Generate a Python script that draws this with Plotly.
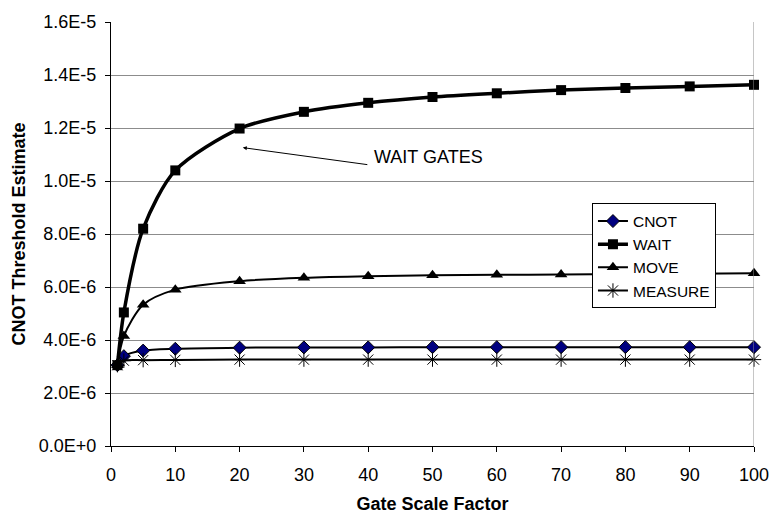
import plotly.graph_objects as go

# Gate scale factors and threshold estimates for each gate type
scale_factor = [1, 2, 5, 10, 20, 30, 40, 50, 60, 70, 80, 90, 100]

cnot = [3.05e-6, 3.39e-6, 3.60e-6, 3.67e-6, 3.71e-6, 3.72e-6, 3.72e-6,
        3.73e-6, 3.73e-6, 3.73e-6, 3.73e-6, 3.73e-6, 3.73e-6]
wait = [3.05e-6, 5.04e-6, 8.20e-6, 1.040e-5, 1.198e-5, 1.261e-5, 1.295e-5,
        1.317e-5, 1.331e-5, 1.343e-5, 1.351e-5, 1.357e-5, 1.363e-5]
move = [3.05e-6, 4.15e-6, 5.33e-6, 5.90e-6, 6.22e-6, 6.35e-6, 6.41e-6,
        6.44e-6, 6.46e-6, 6.47e-6, 6.49e-6, 6.50e-6, 6.52e-6]
measure = [3.05e-6, 3.22e-6, 3.24e-6, 3.25e-6, 3.26e-6, 3.26e-6, 3.26e-6,
           3.26e-6, 3.26e-6, 3.26e-6, 3.26e-6, 3.26e-6, 3.26e-6]

y_tick_vals = [0, 2e-6, 4e-6, 6e-6, 8e-6, 1.0e-5, 1.2e-5, 1.4e-5, 1.6e-5]
y_tick_text = ["0.0E+0", "2.0E-6", "4.0E-6", "6.0E-6", "8.0E-6",
               "1.0E-5", "1.2E-5", "1.4E-5", "1.6E-5"]
x_tick_vals = [0, 10, 20, 30, 40, 50, 60, 70, 80, 90, 100]

FONT = "Liberation Sans, Arial, sans-serif"

series = [
    ("CNOT", cnot, dict(symbol="diamond", size=10, color="#000080",
                        line=dict(color="#000000", width=1)), 2),
    ("WAIT", wait, dict(symbol="square", size=10, color="#000000"), 3.5),
    ("MOVE", move, dict(symbol="triangle-up", size=11, color="#000000"), 2),
    ("MEASURE", measure, dict(symbol="asterisk-open", size=12, color="#000000",
                              line=dict(color="#000000", width=1)), 2),
]

fig = go.Figure()
for name, vals, marker, width in series:
    fig.add_trace(go.Scatter(
        x=scale_factor, y=vals, name=name, mode="lines+markers",
        line=dict(color="#000000", width=width, shape="spline", smoothing=0.8),
        marker=marker, cliponaxis=False,
    ))

fig.add_annotation(
    x=20.5, y=1.126e-5, ax=40.1, ay=1.061e-5, axref="x", ayref="y",
    xref="x", yref="y", text="", showarrow=True,
    arrowhead=2, arrowsize=0.8, arrowwidth=1, arrowcolor="#000000",
)
fig.add_annotation(
    x=40.6, y=1.09e-5, xref="x", yref="y", text="WAIT GATES",
    showarrow=False, xanchor="left",
    font=dict(family=FONT, size=18, color="#000000"),
)

fig.update_layout(
    width=781, height=522,
    margin=dict(l=111, r=20, t=15, b=73),
    paper_bgcolor="#ffffff", plot_bgcolor="#ffffff",
    font=dict(family=FONT, size=18, color="#000000"),
    showlegend=True,
    legend=dict(
        x=0.748, y=0.572, xanchor="left", yanchor="top",
        bordercolor="#000000", borderwidth=1, bgcolor="#ffffff",
        font=dict(family=FONT, size=15.5, color="#000000"),
        tracegroupgap=0, itemwidth=30,
    ),
    xaxis=dict(
        range=[0, 100], tickvals=x_tick_vals,
        showline=True, linecolor="#000000", linewidth=1,
        ticks="outside", ticklen=5, tickcolor="#000000",
        showgrid=False, zeroline=False, ticklabelstandoff=7,
        title=dict(text="<b>Gate Scale Factor</b>",
                   font=dict(family=FONT, size=18), standoff=13),
        tickfont=dict(family=FONT, size=18),
    ),
    yaxis=dict(
        range=[0, 1.6e-5], tickvals=y_tick_vals, ticktext=y_tick_text,
        showline=True, linecolor="#000000", linewidth=1,
        ticks="outside", ticklen=5, tickcolor="#000000",
        showgrid=True, gridcolor="#8c8c8c", gridwidth=1, zeroline=False,
        ticklabelstandoff=5,
        title=dict(text="<b>CNOT Threshold Estimate</b>",
                   font=dict(family=FONT, size=18), standoff=8),
        tickfont=dict(family=FONT, size=18),
    ),
)

# right-hand border of the plot area
fig.add_shape(type="line", xref="x", yref="paper", x0=100, x1=100, y0=0, y1=1,
              line=dict(color="#8c8c8c", width=1))

fig.write_html("out.html")
